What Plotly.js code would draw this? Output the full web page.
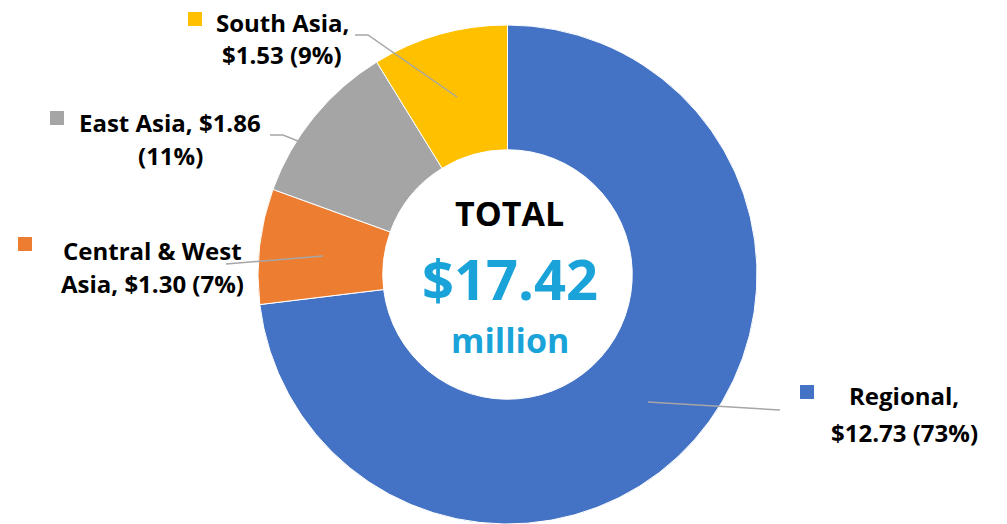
<!DOCTYPE html>
<html>
<head>
<meta charset="utf-8">
<script src="https://cdn.plot.ly/plotly-3.0.1.min.js"></script>
<style>html,body{margin:0;padding:0;background:#fff;}#chart{width:1007px;height:524px;}</style>
</head>
<body>
<div id="chart"></div>
<script>
const categories = ["Regional", "Central & West Asia", "East Asia", "South Asia"];
const values = [12.73, 1.30, 1.86, 1.53];
const percents = [73, 7, 11, 9];
const colors = ["#4472C4", "#ED7D31", "#A5A5A5", "#FFC000"];
const labelLines = [
  ["Regional,", "$12.73 (73%)"],
  ["Central & West", "Asia, $1.30 (7%)"],
  ["East Asia, $1.86", "(11%)"],
  ["South Asia,", "$1.53 (9%)"]
];
const totalText = ["TOTAL", "$17.42", "million"];

const W = 1007, H = 524;
const px = x => x / W;
const py = y => 1 - y / H;

// label layout (pixel positions)
const labelPos = [
  {tx: 904, ty: [395, 432], sq: [800, 385], line: [[780, 410], [648, 402]]},
  {tx: 152, ty: [250, 283], sq: [18, 237], line: [[226, 264], [323, 256]]},
  {tx: 170, ty: [122, 155], sq: [50, 111], line: [[270, 135], [283, 135], [298, 141]]},
  {tx: 282, ty: [22, 55], sq: [188, 12], line: [[355, 35], [368, 35], [457, 97]]}
];

const font = "'Open Sans', sans-serif";
const annotations = [];
const shapes = [];
labelPos.forEach((p, i) => {
  labelLines[i].forEach((t, k) => {
    annotations.push({
      xref: "paper", yref: "paper", x: px(p.tx), y: py(p.ty[k]),
      xanchor: "center", yanchor: "middle", showarrow: false, align: "center",
      text: "<b>" + t + "</b>",
      font: {family: font, size: 24, color: "#000"}
    });
  });
  shapes.push({
    type: "rect", xref: "paper", yref: "paper",
    x0: px(p.sq[0]), x1: px(p.sq[0] + 14), y0: py(p.sq[1]), y1: py(p.sq[1] + 14),
    fillcolor: colors[i], line: {width: 0}
  });
  const path = p.line.map((pt, k) => (k ? "L" : "M") + px(pt[0]) + "," + py(pt[1])).join(" ");
  shapes.push({type: "path", xref: "paper", yref: "paper", path: path, line: {color: "#A6A6A6", width: 1.5}});
});

annotations.push(
  {xref: "paper", yref: "paper", x: px(510), y: py(213), showarrow: false, xanchor: "center", yanchor: "middle",
   text: "<b>" + totalText[0] + "</b>", font: {family: font, size: 34, color: "#000"}},
  {xref: "paper", yref: "paper", x: px(510), y: py(278), showarrow: false, xanchor: "center", yanchor: "middle",
   text: "<b>" + totalText[1] + "</b>", font: {family: font, size: 56, color: "#1AA3D9"}},
  {xref: "paper", yref: "paper", x: px(510), y: py(340), showarrow: false, xanchor: "center", yanchor: "middle",
   text: "<b>" + totalText[2] + "</b>", font: {family: font, size: 34, color: "#1AA3D9"}}
);

const data = [{
  type: "pie",
  labels: categories,
  values: values,
  hole: 0.5,
  sort: false,
  direction: "clockwise",
  rotation: 0,
  textinfo: "none",
  hoverinfo: "label+value+percent",
  marker: {colors: colors, line: {color: "#fff", width: 1}},
  domain: {x: [px(258), px(757)], y: [0, py(25)]}
}];

const layout = {
  width: W, height: H,
  margin: {l: 0, r: 0, t: 0, b: 0},
  showlegend: false,
  paper_bgcolor: "#fff",
  annotations: annotations,
  shapes: shapes
};

Plotly.newPlot("chart", data, layout, {displayModeBar: false, staticPlot: true});
</script>
</body>
</html>
